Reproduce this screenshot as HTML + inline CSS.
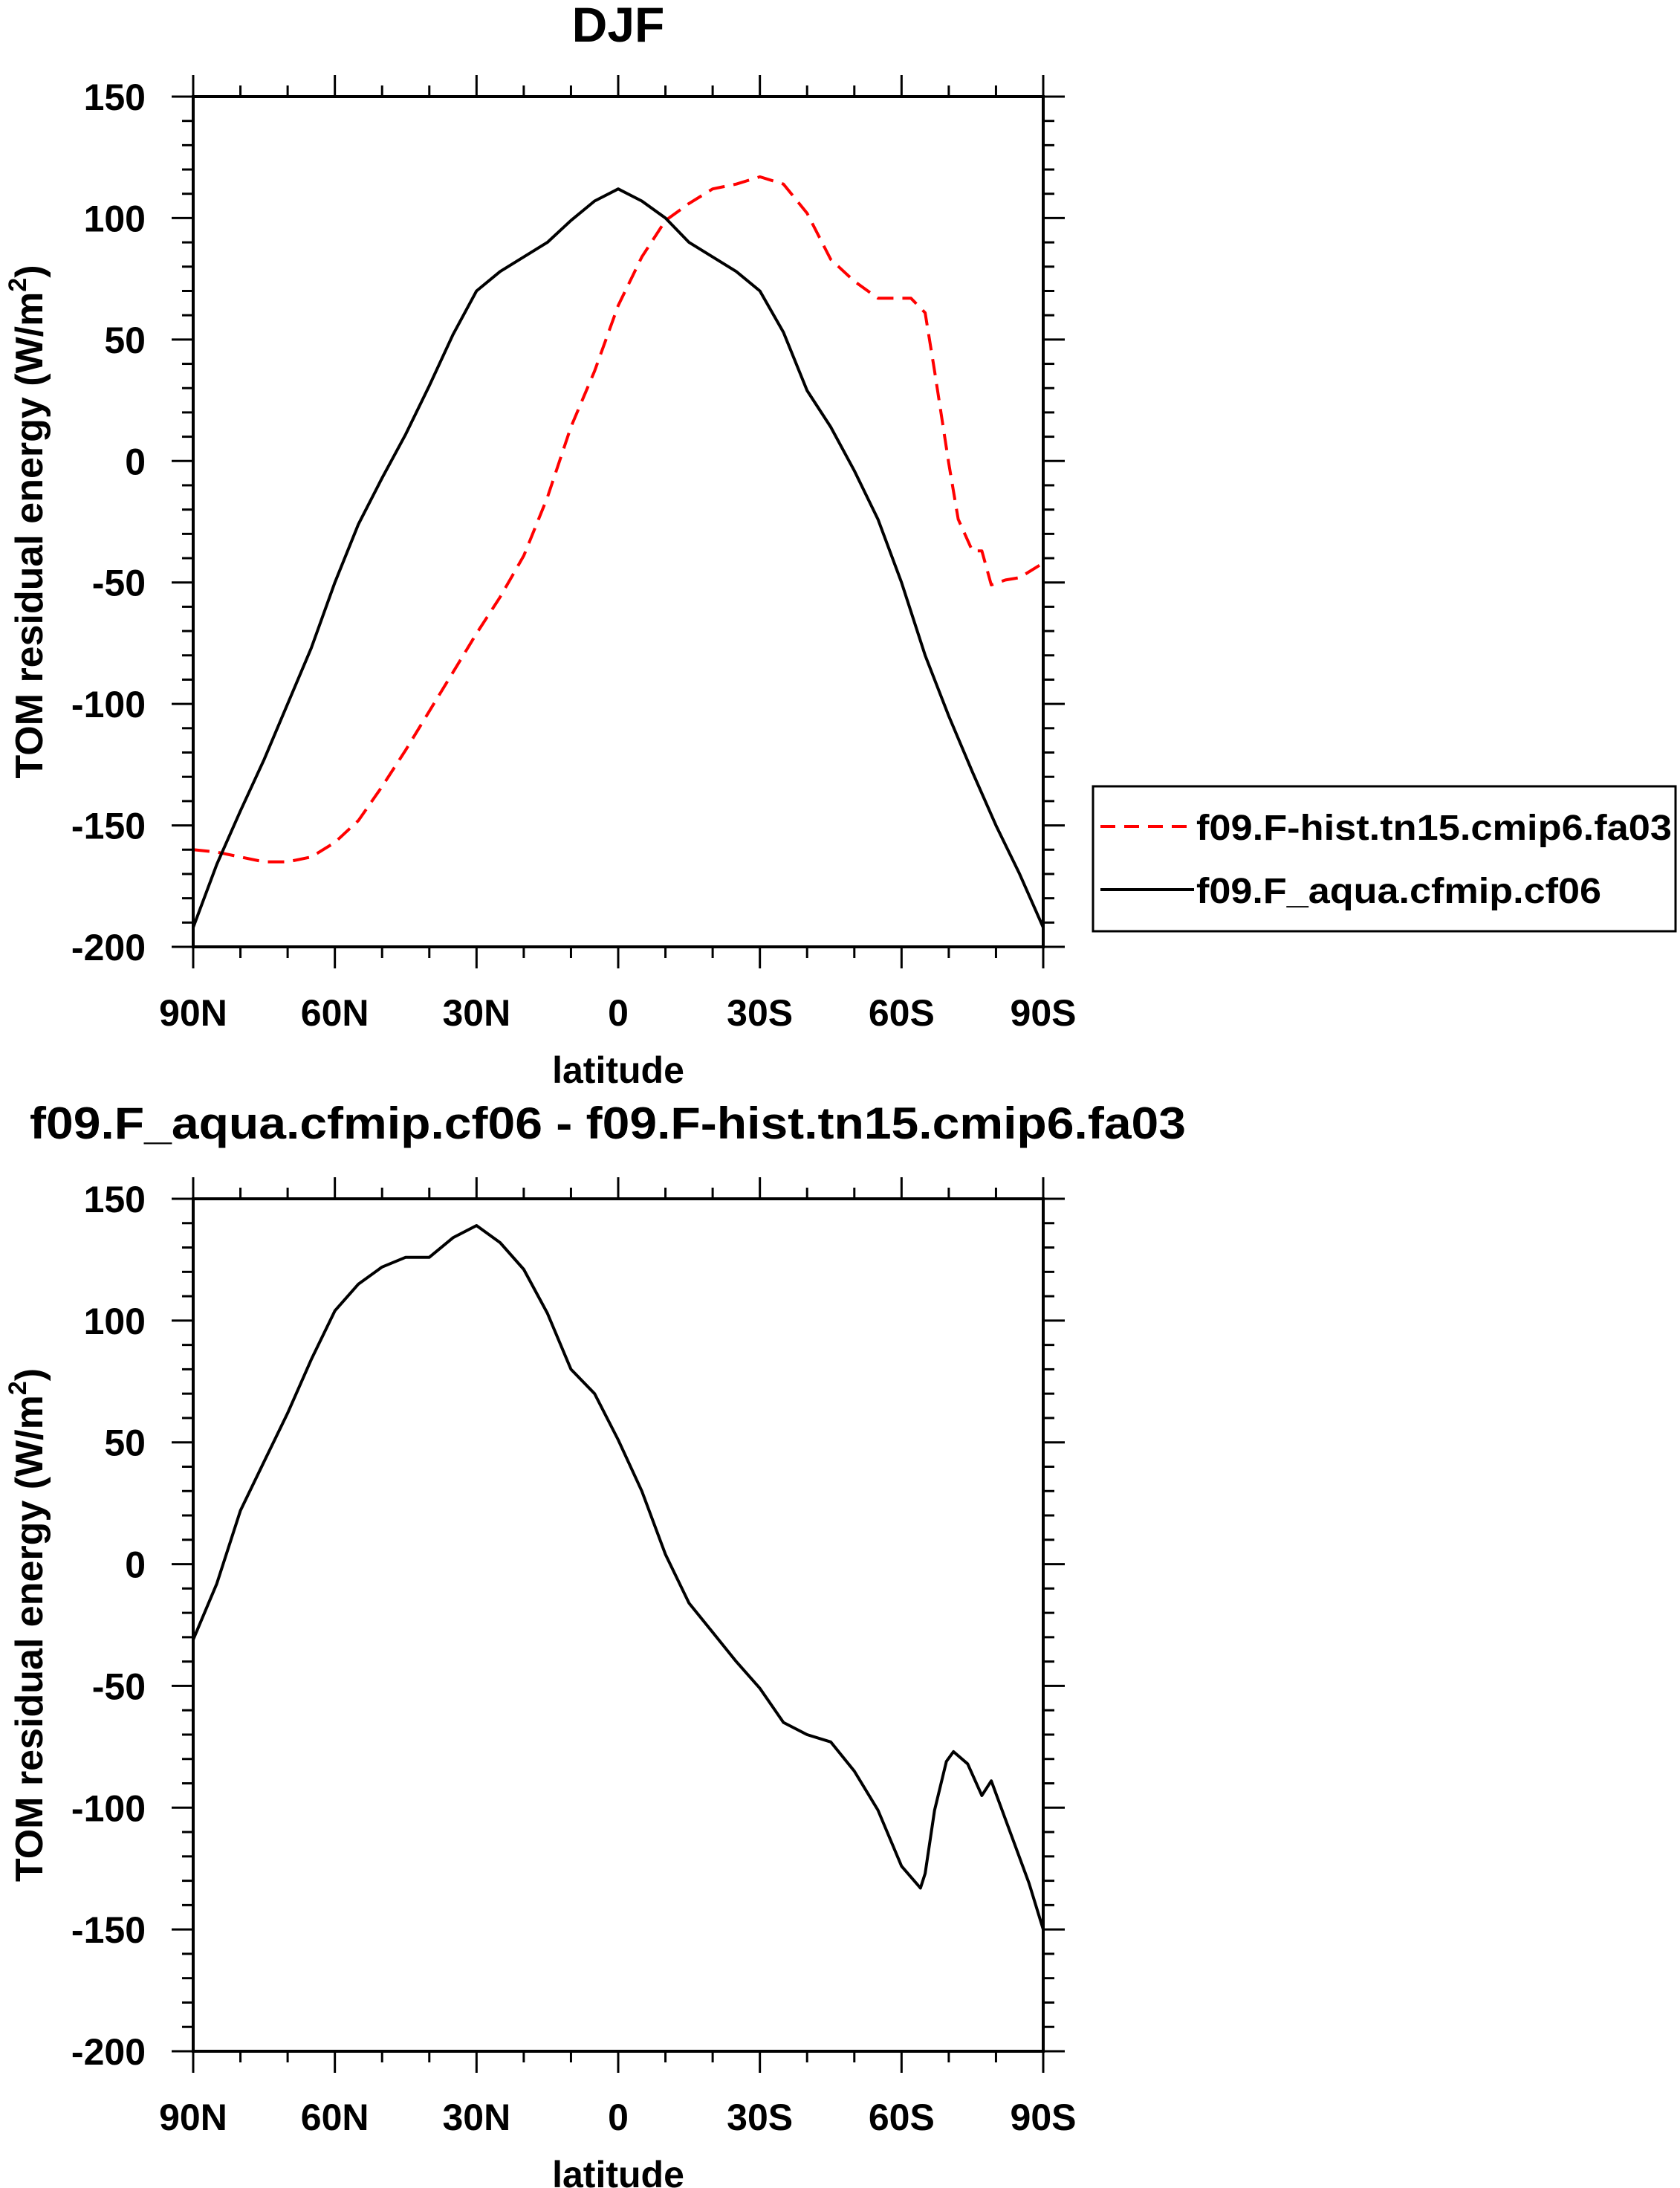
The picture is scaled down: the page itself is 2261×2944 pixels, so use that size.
<!DOCTYPE html>
<html><head><meta charset="utf-8"><style>
html,body{margin:0;padding:0;background:#fff;}
svg{display:block;font-family:"Liberation Sans",Arial,sans-serif;font-weight:bold;}
</style></head><body>
<svg id="chart" width="2261" height="2944" viewBox="0 0 2261 2944" xmlns="http://www.w3.org/2000/svg">
<text x="832" y="56" font-size="66" text-anchor="middle">DJF</text>
<text x="818" y="1532" font-size="60" text-anchor="middle" textLength="1556" lengthAdjust="spacingAndGlyphs">f09.F_aqua.cfmip.cf06 - f09.F-hist.tn15.cmip6.fa03</text>
<g id="top"></g>
<g id="bot"></g>
<g>
<rect x="1471" y="1058" width="784" height="195" fill="none" stroke="#000" stroke-width="3"/>
<line x1="1481" y1="1112" x2="1607" y2="1112" stroke="#f00" stroke-width="4" stroke-dasharray="20,12"/>
<text x="1610" y="1130" font-size="48" textLength="640" lengthAdjust="spacingAndGlyphs">f09.F-hist.tn15.cmip6.fa03</text>
<line x1="1481" y1="1197" x2="1607" y2="1197" stroke="#000" stroke-width="4"/>
<text x="1610" y="1215" font-size="48" textLength="545" lengthAdjust="spacingAndGlyphs">f09.F_aqua.cfmip.cf06</text>
</g>
</svg>
<script>
const xTickLats = [90, 60, 30, 0, -30, -60, -90];
const xTickLabels = ["90N", "60N", "30N", "0", "30S", "60S", "90S"];
const yTicksTop = [150, 100, 50, 0, -50, -100, -150, -200];
const yTicksBot = [150, 100, 50, 0, -50, -100, -150, -200];

const aquaLat = [90,85,80,75,70,65,60,55,50,45,40,35,30,25,20,15,10,5,0,-5,-10,-15,-20,-25,-30,-35,-40,-45,-50,-55,-60,-65,-70,-75,-80,-85,-90];
const aquaVal = [-192,-166,-144,-123,-100,-77,-50,-26,-7,11,31,52,70,78,84,90,99,107,112,107,100,90,84,78,70,53,29,14,-4,-24,-50,-80,-105,-128,-150,-170,-192];

const histLat = [90,85,80,75,70,65,60,55,50,45,40,35,30,25,20,15,10,5,0,-5,-10,-15,-20,-25,-30,-35,-40,-45,-50,-55,-60,-62,-65,-67,-70,-72,-75,-77,-79,-82,-85,-90];
const histVal = [-160,-161,-163,-165,-165,-163,-157,-148,-134,-119,-103,-87,-71,-56,-39,-15,14,37,64,84,99,106,112,114,117,114,102,83,74,67,67,67,61,37,-1,-24,-37,-37,-51,-49,-48,-42];

const diffLat = [90,85,80,75,70,65,60,55,50,45,40,35,30,25,20,15,10,5,0,-5,-10,-15,-20,-25,-30,-35,-40,-45,-50,-55,-60,-64,-65,-67,-69.5,-71,-74,-77,-79,-83,-87,-90];
const diffVal = [-31,-8,22,42,62,84,104,115,122,126,126,134,139,132,121,103,80,70,51,30,4,-16,-28,-40,-51,-65,-70,-73,-85,-101,-124,-133,-127,-101,-81,-77,-82,-95,-89,-110,-131,-150];

const NS = "http://www.w3.org/2000/svg";
function mk(tag, attrs, parent){const e=document.createElementNS(NS,tag);for(const k in attrs)e.setAttribute(k,attrs[k]);parent.appendChild(e);return e;}

function panel(g, top, bottom, yTicks, series, name){
  const L=260, R=1404;
  const xs = lat => L + (90-lat)/180*(R-L);
  const ys = v => top + (150-v)/350*(bottom-top);
  for(let lat=90; lat>=-90; lat-=10){
    const x=xs(lat), major = lat%30===0, len = major?29:15;
    let t=mk('line',{x1:x,y1:bottom,x2:x,y2:bottom+len,stroke:'#000','stroke-width':3},g);
    
    
    t=mk('line',{x1:x,y1:top,x2:x,y2:top-len,stroke:'#000','stroke-width':3},g);
    
    
  }
  for(let v=150; v>=-200; v-=10){
    const y=ys(v), major = v%50===0, len = major?29:15;
    let t=mk('line',{x1:L,y1:y,x2:L-len,y2:y,stroke:'#000','stroke-width':3},g);
    
    
    t=mk('line',{x1:R,y1:y,x2:R+len,y2:y,stroke:'#000','stroke-width':3},g);
    
    
  }
  yTicks.forEach(v=>{
    const t=mk('text',{x:196,y:ys(v)+18,'font-size':50,'text-anchor':'end'},g);
    t.textContent=String(v);
    
    
  });
  xTickLats.forEach((lat,i)=>{
    const t=mk('text',{x:xs(lat),y:bottom+106,'font-size':50,'text-anchor':'middle'},g);
    t.textContent=xTickLabels[i];
    
    
  });
  let xt=mk('text',{x:832,y:bottom+183,'font-size':50,'text-anchor':'middle'},g);
  xt.textContent='latitude';
  
  
  const cy=(top+bottom)/2;
  const yt=mk('text',{x:0,y:0,'font-size':52,'text-anchor':'middle',transform:`translate(57,${cy}) rotate(-90)`},g);
  
  
  yt.appendChild(document.createTextNode('TOM residual energy (W/m'));
  const sup=mk('tspan',{'font-size':34,dy:-22},yt); sup.textContent='2';
  const cl=mk('tspan',{dy:22},yt); cl.textContent=')';
  series.forEach(s=>{
    const d=s.lat.map((la,i)=>(i?'L':'M')+xs(la).toFixed(1)+','+ys(s.val[i]).toFixed(1)).join(' ');
    const p=mk('path',{d:d,fill:'none',stroke:s.color,'stroke-width':4,'stroke-linejoin':'round'},g);
    if(s.dash)p.setAttribute('stroke-dasharray',s.dash);
    
    
  });
  const f=mk('rect',{x:L,y:top,width:R-L,height:bottom-top,fill:'none',stroke:'#000','stroke-width':4},g);
  
  
}
panel(document.getElementById('top'),130,1274,yTicksTop,[
  {lat:histLat,val:histVal,color:'#f00',dash:'22,12',name:'hist-line'},
  {lat:aquaLat,val:aquaVal,color:'#000',name:'aqua-line'}],'top');
panel(document.getElementById('bot'),1613,2760,yTicksBot,[
  {lat:diffLat,val:diffVal,color:'#000',name:'difference-line'}],'bottom');
</script>
</body></html>
